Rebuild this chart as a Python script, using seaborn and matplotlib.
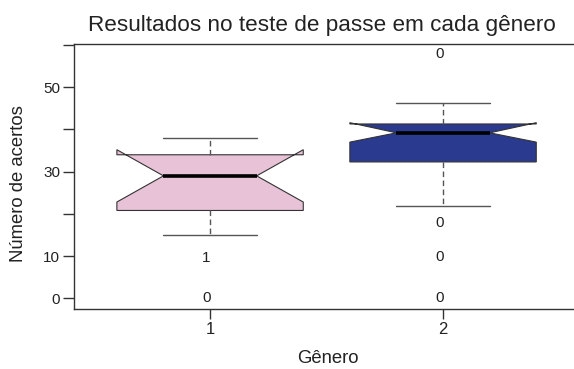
# Notched boxplots of test scores per gender, R-style look
import numpy as np
import pandas as pd
import matplotlib
matplotlib.use("Agg")
import matplotlib.pyplot as plt
import seaborn as sns

# Box statistics
genero = [1, 2]
whislo = [15.0, 21.9]
q1 = [20.8, 32.3]
cilo = [22.8, 37.0]
medianas = [29.0, 39.2]
cihi = [35.2, 41.6]
q3 = [34.0, 41.3]
whishi = [38.0, 46.3]
cores = ["#E8C2D6", "#2A3A8E"]

# Outliers are drawn as text labels
out_x = [1, 1, 2, 2, 2, 2]
out_y = [9.6, 0.0, 57.8, 17.8, 9.8, 0.0]
out_lab = ["1", "0", "0", "0", "0", "0"]

yticks = [0, 10, 20, 30, 40, 50, 60]
ytick_labels = ["0", "10", "", "30", "", "50", ""]

sns.set_style("ticks")
plt.rcParams["font.family"] = ["Liberation Sans", "DejaVu Sans"]

stats = pd.DataFrame({"med": medianas, "q1": q1, "q3": q3, "whislo": whislo,
                      "whishi": whishi, "cilo": cilo, "cihi": cihi})
bxp_stats = [dict(row, fliers=[]) for row in stats.to_dict("records")]

fig = plt.figure(figsize=(5.74, 3.69), dpi=100)
ax = fig.add_axes([74 / 574, 1 - 309 / 369, 500 / 574, 265 / 369])

edge = "#333333"
bp = ax.bxp(bxp_stats, positions=genero, widths=0.8, capwidths=0.4,
            shownotches=True, patch_artist=True, showfliers=False, manage_ticks=False,
            boxprops=dict(edgecolor=edge, linewidth=0.8),
            medianprops=dict(color="black", linewidth=2.6, solid_capstyle="butt"),
            whiskerprops=dict(color="#555555", linewidth=1.0, linestyle=(0, (4, 2.5))),
            capprops=dict(color="#555555", linewidth=1.0))
for patch, c in zip(bp["boxes"], cores):
    patch.set_facecolor(c)

for x, y, t in zip(out_x, out_y, out_lab):
    ax.text(x - 0.015, y, t, ha="center", va="center", fontsize=11, color="#222222")

ax.set_xlim(0.416, 2.562)
ax.set_ylim(-2.55, 60.25)
ax.set_xticks(genero)
ax.set_xticklabels([str(g) for g in genero], fontsize=12)
ax.set_yticks(yticks)
ax.set_yticklabels(ytick_labels, fontsize=11)
ax.tick_params(axis="y", length=8, width=1.0, color="#333333", pad=2, labelcolor="#222222")
ax.tick_params(axis="x", length=7.5, width=1.0, color="#333333", pad=2, labelcolor="#222222")

for side in ["left", "bottom", "top"]:
    ax.spines[side].set_color("#333333")
    ax.spines[side].set_linewidth(1.0)
ax.spines["right"].set_visible(False)

ax.set_ylabel("Número de acertos", fontsize=13.3, color="#222222")
ax.yaxis.label.set_verticalalignment("center")
ax.yaxis.set_label_coords((19 - 74) / 500, 0.475)
ax.set_xlabel("Gênero", fontsize=13.3, color="#222222")
ax.xaxis.label.set_verticalalignment("center")
ax.xaxis.set_label_coords((328 - 74) / 500, (309 - 358.5) / 265)

fig.text(321.5 / 574, 1 - 31 / 369, "Resultados no teste de passe em cada gênero",
         ha="center", va="baseline", fontsize=16.2, color="#222222")

fig.savefig("out.png", dpi=100)
